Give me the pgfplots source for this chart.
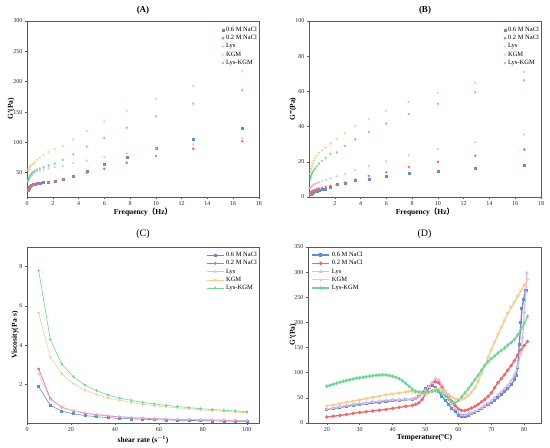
\documentclass[border=0pt]{standalone}
\usepackage{fontspec}
\setmainfont{Liberation Serif}
\newfontfamily\cjk{Noto Sans CJK SC}
\usepackage{pgfplots}
\pgfplotsset{compat=1.18}
\definecolor{cblue}{RGB}{99,141,210}
\definecolor{cred}{RGB}{238,104,104}
\definecolor{clys}{RGB}{222,188,232}
\definecolor{ckgm}{RGB}{248,204,140}
\definecolor{cgrn}{RGB}{112,212,150}
\definecolor{frame}{RGB}{90,90,90}
\pgfplotsset{
  myax/.style={
    scale only axis, anchor=south west,
    axis line style={frame, line width=0.6pt},
    tick style={frame, line width=0.5pt},
    tick align=outside, xtick pos=bottom, ytick pos=left,
    major tick length=2pt,
    tick label style={font=\fontsize{6}{7}\selectfont, text=black!85},
    xticklabel style={yshift=1pt},
    yticklabel style={xshift=1pt},
    label style={font=\bfseries\fontsize{7.5}{9}\selectfont},
    legend style={draw=none, fill=none, font=\fontsize{6.5}{7.5}\selectfont, row sep=-1.6pt, inner sep=1pt},
    legend cell align=left,
    /pgf/number format/assume math mode=true,
    scaled ticks=false,
  },
  sc/.style={only marks, mark size=1.1pt, mark options={line width=0.3pt}},
  ln/.style={line width=0.6pt, mark size=1.1pt},
  dl/.style={line width=1.3pt, mark size=1.0pt},
}
\begin{document}
\begin{tikzpicture}
\useasboundingbox (0pt,0pt) rectangle (550pt,448pt);
% ---------------- (A)
\begin{axis}[myax, at={(27pt,251pt)}, width=232pt, height=176pt,
  xmin=0, xmax=18, ymin=10, ymax=300,
  xtick={0,2,...,18}, ytick={50,100,...,300},
  xlabel={Frequency{\cjk（}Hz{\cjk）}}, ylabel={G'(Pa)},
  xlabel style={at={(axis description cs:0.5,0)}, anchor=center, yshift=-15pt},
  ylabel style={at={(axis description cs:0,0.5)}, anchor=center, yshift=16pt},
  title={\textbf{(A)}}, title style={font=\fontsize{9}{10}\selectfont, at={(axis description cs:0.5,1)}, anchor=center, yshift=5pt},
  legend style={at={(1.005,0.985)}, anchor=north east},
]
\addplot[sc, cblue, mark=square*, mark size=1pt] coordinates {(0.1,21)(0.129,24)(0.167,26)(0.215,27.5)(0.278,28.5)(0.359,29.5)(0.464,30.5)(0.599,31.5)(0.774,32.3)(1.0,33)(1.29,34)(1.67,35)(2.15,36.5)(2.78,39)(3.59,45)(4.64,53)(5.99,64)(7.74,76)(10,90.6)(12.9,105.5)(16.7,123.6)};
\addlegendentry{0.6 M NaCl}
\addplot[sc, cred, mark=*] coordinates {(0.1,20)(0.129,23)(0.167,25)(0.215,26.5)(0.278,27.5)(0.359,28.5)(0.464,29.5)(0.599,30.5)(0.774,31.3)(1.0,32)(1.29,33)(1.67,34)(2.15,35.5)(2.78,38)(3.59,43.5)(4.64,50)(5.99,56.5)(7.74,66.5)(10,77.5)(12.9,89.5)(16.7,102)};
\addlegendentry{0.2 M NaCl}
\addplot[sc, clys, mark=triangle*] coordinates {(0.1,36)(0.129,38)(0.167,40)(0.215,42)(0.278,44)(0.359,46)(0.464,48)(0.599,50)(0.774,52)(1.0,53.5)(1.29,55)(1.67,57)(2.15,59)(2.78,61)(3.59,66)(4.64,70)(5.99,76)(7.74,82)(10,90)(12.9,97)(16.7,107)};
\addlegendentry{Lys}
\addplot[sc, ckgm, mark=triangle*, mark options={rotate=180}] coordinates {(0.1,54)(0.129,56)(0.167,57.5)(0.215,59)(0.278,61)(0.359,62.5)(0.464,64)(0.599,67)(0.774,71)(1.0,75)(1.29,79)(1.67,84)(2.15,89)(2.78,94)(3.59,105)(4.64,118.7)(5.99,134.6)(7.74,152)(10,171.5)(12.9,193)(16.7,217.6)};
\addlegendentry{KGM}
\addplot[sc, cgrn, mark=diamond*] coordinates {(0.1,38)(0.129,40)(0.167,42)(0.215,44)(0.278,46.5)(0.359,49)(0.464,51)(0.599,53)(0.774,55)(1.0,57)(1.29,59)(1.67,62)(2.15,65)(2.78,71)(3.59,80.5)(4.64,93)(5.99,107.7)(7.74,124)(10,143)(12.9,163.7)(16.7,186)};
\addlegendentry{Lys-KGM}
\end{axis}
% ---------------- (B)
\begin{axis}[myax, at={(309pt,251pt)}, width=232pt, height=176pt,
  xmin=0, xmax=18, ymin=0, ymax=100,
  xtick={2,4,...,18}, ytick={0,20,...,100},
  xlabel={Frequency{\cjk（}Hz{\cjk）}}, ylabel={G''(Pa)},
  xlabel style={at={(axis description cs:0.5,0)}, anchor=center, yshift=-15pt},
  ylabel style={at={(axis description cs:0,0.5)}, anchor=center, yshift=16pt},
  title={\textbf{(B)}}, title style={font=\fontsize{9}{10}\selectfont, at={(axis description cs:0.5,1)}, anchor=center, yshift=5pt},
  legend style={at={(1.005,0.985)}, anchor=north east},
]
\addplot[sc, cblue, mark=square*, mark size=1pt] coordinates {(0.1,1.5)(0.129,1.8)(0.167,2.1)(0.215,2.4)(0.278,2.7)(0.359,3.0)(0.464,3.3)(0.599,3.6)(0.774,3.9)(1.0,4.2)(1.29,4.7)(1.67,5.5)(2.15,7.4)(2.78,8)(3.59,9.3)(4.64,10.4)(5.99,11.6)(7.74,13.3)(10,14.8)(12.9,16.5)(16.7,18.2)};
\addlegendentry{0.6 M NaCl}
\addplot[sc, cred, mark=*] coordinates {(0.1,2)(0.129,2.4)(0.167,2.8)(0.215,3.1)(0.278,3.4)(0.359,3.7)(0.464,4.0)(0.599,4.4)(0.774,4.8)(1.0,5.2)(1.29,5.7)(1.67,6.3)(2.15,7)(2.78,8.2)(3.59,9.9)(4.64,12)(5.99,14)(7.74,17.1)(10,20)(12.9,23.4)(16.7,27)};
\addlegendentry{0.2 M NaCl}
\addplot[sc, clys, mark=triangle*] coordinates {(0.1,5)(0.129,5.4)(0.167,5.8)(0.215,6.2)(0.278,6.6)(0.359,7)(0.464,7.4)(0.599,7.9)(0.774,8.4)(1.0,9)(1.29,9.7)(1.67,10.6)(2.15,11.8)(2.78,13.1)(3.59,15.2)(4.64,17.7)(5.99,20.3)(7.74,23.6)(10,27.2)(12.9,31)(16.7,35.5)};
\addlegendentry{Lys}
\addplot[sc, ckgm, mark=triangle*, mark options={rotate=180}] coordinates {(0.1,13)(0.129,14.5)(0.167,16)(0.215,17.5)(0.278,19)(0.359,20.5)(0.464,22)(0.599,23.5)(0.774,25)(1.0,26.5)(1.29,28)(1.67,30.4)(2.15,33.2)(2.78,36.3)(3.59,40.3)(4.64,44.4)(5.99,49)(7.74,54)(10,59.3)(12.9,65)(16.7,71.2)};
\addlegendentry{KGM}
\addplot[sc, cgrn, mark=diamond*] coordinates {(0.1,10)(0.129,11)(0.167,12)(0.215,13)(0.278,14)(0.359,15)(0.464,16.2)(0.599,17.5)(0.774,19)(1.0,20.5)(1.29,22.2)(1.67,24.5)(2.15,25.3)(2.78,29)(3.59,32.7)(4.64,37)(5.99,41.8)(7.74,47.1)(10,53)(12.9,59.5)(16.7,66.3)};
\addlegendentry{Lys-KGM}
\end{axis}
% ---------------- (C)
\begin{axis}[myax, at={(27pt,25pt)}, width=232pt, height=176pt,
  xmin=0, xmax=105.5, ymin=0.05, ymax=9,
  xtick={0,20,...,100}, ytick={2,4,6,8},
  xlabel={shear rate (s$^{\mathbf{-1}}$)}, ylabel={Viscosity(Pa$\cdot$s)},
  xlabel style={at={(axis description cs:0.5,0)}, anchor=center, yshift=-17pt},
  ylabel style={at={(axis description cs:0,0.5)}, anchor=center, yshift=12pt},
  title={(C)}, title style={font=\fontsize{10}{11}\selectfont, at={(axis description cs:0.5,1)}, anchor=center, yshift=7pt},
  legend style={at={(1.005,0.99)}, anchor=north east},
]
\addplot[ln, cblue, mark=square*, mark size=1pt] coordinates {(5.3,1.9)(10.6,0.95)(15.8,0.65)(21.1,0.52)(26.3,0.43)(31.6,0.37)(36.8,0.32)(42.1,0.28)(47.4,0.26)(52.6,0.24)(57.9,0.22)(63.2,0.2)(68.4,0.19)(73.7,0.18)(78.9,0.17)(84.2,0.16)(89.5,0.15)(94.7,0.14)(100,0.14)};
\addlegendentry{0.6 M NaCl}
\addplot[ln, cred, mark=*] coordinates {(5.3,2.8)(10.6,1.3)(15.8,0.85)(21.1,0.67)(26.3,0.55)(31.6,0.47)(36.8,0.41)(42.1,0.36)(47.4,0.32)(52.6,0.29)(57.9,0.27)(63.2,0.25)(68.4,0.23)(73.7,0.22)(78.9,0.21)(84.2,0.2)(89.5,0.19)(94.7,0.18)(100,0.17)};
\addlegendentry{0.2 M NaCl}
\addplot[ln, clys, mark=triangle*] coordinates {(5.3,2.55)(10.6,1.25)(15.8,0.85)(21.1,0.68)(26.3,0.57)(31.6,0.49)(36.8,0.43)(42.1,0.38)(47.4,0.34)(52.6,0.31)(57.9,0.28)(63.2,0.26)(68.4,0.24)(73.7,0.23)(78.9,0.22)(84.2,0.21)(89.5,0.2)(94.7,0.19)(100,0.18)};
\addlegendentry{Lys}
\addplot[ln, ckgm, mark=triangle*, mark options={rotate=180}] coordinates {(5.3,5.65)(10.6,3.4)(15.8,2.55)(21.1,2.05)(26.3,1.72)(31.6,1.5)(36.8,1.33)(42.1,1.2)(47.4,1.1)(52.6,1.0)(57.9,0.93)(63.2,0.87)(68.4,0.82)(73.7,0.77)(78.9,0.72)(84.2,0.68)(89.5,0.64)(94.7,0.61)(100,0.57)};
\addlegendentry{KGM}
\addplot[ln, cgrn, mark=diamond*] coordinates {(5.3,7.8)(10.6,4.3)(15.8,3.05)(21.1,2.4)(26.3,1.98)(31.6,1.7)(36.8,1.47)(42.1,1.32)(47.4,1.2)(52.6,1.1)(57.9,1.02)(63.2,0.95)(68.4,0.89)(73.7,0.83)(78.9,0.78)(84.2,0.74)(89.5,0.7)(94.7,0.66)(100,0.62)};
\addlegendentry{Lys-KGM}
\end{axis}
% ---------------- (D)
\begin{axis}[myax, at={(308pt,25pt)}, width=233pt, height=176pt,
  xmin=14.3, xmax=85.1, ymin=0, ymax=350,
  xtick={20,30,...,80}, ytick={0,50,...,350},
  xlabel={Temperature(°C)}, ylabel={G'(Pa)},
  xlabel style={at={(axis description cs:0.5,0)}, anchor=center, yshift=-15pt},
  ylabel style={at={(axis description cs:0,0.5)}, anchor=center, yshift=15pt},
  title={(D)}, title style={font=\fontsize{10}{11}\selectfont, at={(axis description cs:0.5,1)}, anchor=center, yshift=7pt},
  legend style={at={(0.01,0.99)}, anchor=north west},
]
\addplot[dl, cblue, mark=square*, mark size=0.9pt] coordinates {(20,27)(22,29)(24,31)(26,33)(28,35)(30,37)(32,38.5)(34,40)(36,41.5)(38,43)(40,44)(42,45)(44,46)(46,47)(47,48)(48,52)(49,60)(50,68)(51,73)(52,74)(53,70)(54,62)(55,53)(56,45)(57,37)(58,29)(59,22)(60,16)(61,14)(62,14)(63,16)(64,18)(65,21)(66,24)(67,28)(68,32)(69,36)(70,40)(71,45)(72,50)(73,56)(74,62)(75,68)(76,76)(77,86)(77.5,95)(78,110)(78.5,157)(79,200)(79.3,228)(79.8,245)(80.3,264)(80.8,264)};
\addlegendentry{0.6 M NaCl}
\addplot[dl, cred, mark=*] coordinates {(20,12)(22,13.5)(24,15)(26,17)(28,19)(30,21)(32,22.5)(34,24)(36,25.5)(38,27)(40,29)(42,31)(44,33)(46,35)(47,37)(48,40)(49,47)(50,58)(51,70)(52,79)(53,82)(54,80)(55,72)(56,62)(57,52)(58,43)(59,35)(60,28)(61,25)(62,25)(63,27)(64,30)(65,33)(66,37)(67,42)(68,47)(69,53)(70,60)(71,70)(72,80)(73,88)(74,96)(75,105)(76,114)(77,124)(78,135)(79,145)(80,154)(81,162)};
\addlegendentry{0.2 M NaCl}
\addplot[dl, clys, mark=triangle*] coordinates {(20,28)(22,30)(24,32.5)(26,35)(28,37)(30,39)(32,40.5)(34,42)(36,43.5)(38,45)(40,46)(42,46.5)(44,47)(46,48)(47,49)(48,52)(49,58)(50,65)(51,72)(52,80)(53,88)(54,86)(55,75)(56,62)(57,50)(58,38)(59,28)(60,20)(61,16)(62,16)(63,18)(64,20)(65,23)(66,26)(67,30)(68,34)(69,39)(70,44)(71,50)(72,56)(73,62)(74,68)(75,75)(76,84)(77,95)(78,112)(79,140)(79.5,170)(80,220)(80.5,260)(80.8,298)};
\addlegendentry{Lys}
\addplot[dl, ckgm, mark=triangle*, mark options={rotate=180}] coordinates {(20,34)(22,36)(24,38.5)(26,41)(28,43.5)(30,46)(32,48.5)(34,51)(36,53.5)(38,56)(40,58)(42,60)(44,62)(45,63)(46,62.5)(47,61.5)(48,60)(49,59)(50,58)(51,60)(52,65)(53,68)(54,68)(55,66)(56,62)(57,57)(58,52)(59,48)(60,46)(61,47)(62,50)(63,55)(64,62)(65,70)(66,83)(67,98)(68,114)(69,130)(70,146)(71,161)(72,176)(73,190)(74,204)(75,218)(76,230)(77,241)(78,252)(79,263)(80,274)(81,285)};
\addlegendentry{KGM}
\addplot[dl, cgrn, mark=diamond*] coordinates {(20,73)(21,75)(22,77)(23,79)(24,81)(25,83)(26,84.5)(27,86)(28,87.5)(29,89)(30,90)(31,91)(32,92)(33,93)(34,94)(35,95)(36,95.5)(37,96)(38,95.5)(39,94.5)(40,93)(41,91)(42,88)(43,84)(44,79)(45,73)(46,67)(47,63)(48,62)(49,61)(50,61)(51,62)(52,63)(53,64)(54,63)(55,60)(56,54)(57,47)(58,41)(59,40)(60,45)(61,52)(62,60)(63,68)(64,77)(65,86)(66,95)(67,105)(68,114)(69,122)(70,128)(71,133)(72,139)(73,144)(74,149)(75,155)(76,160)(77,166)(78,175)(79,186)(80,198)(81,212)};
\addlegendentry{Lys-KGM}
\end{axis}
\end{tikzpicture}
\end{document}
